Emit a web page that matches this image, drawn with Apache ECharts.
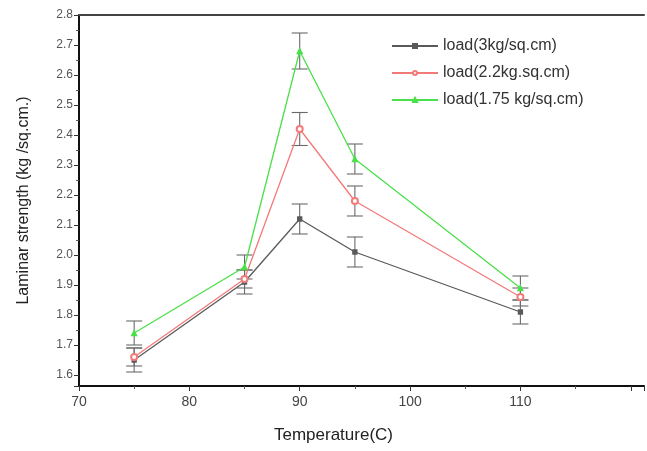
<!DOCTYPE html>
<html>
<head>
<meta charset="utf-8">
<script src="https://cdn.jsdelivr.net/npm/echarts@6/dist/echarts.min.js"></script>
<style>
  html, body { margin: 0; padding: 0; background: #fff; }
  #chart { width: 647px; height: 451px; }
</style>
</head>
<body>
<div id="chart"></div>
<script>
// temperatures (C)
var temps = [75, 85, 90, 95, 110];
var seriesNames = ['load(3kg/sq.cm)', 'load(2.2kg.sq.cm)', 'load(1.75 kg/sq.cm)'];
// laminar strength values
var load3 = [1.65, 1.91, 2.12, 2.01, 1.81];
var load22 = [1.66, 1.92, 2.42, 2.18, 1.86];
var load175 = [1.74, 1.96, 2.68, 2.32, 1.89];
// error (+/-)
var err3 = [0.04, 0.04, 0.05, 0.05, 0.04];
var err22 = [0.03, 0.03, 0.055, 0.05, 0.03];
var err175 = [0.04, 0.04, 0.06, 0.05, 0.04];
var xLabels = [70, 80, 90, 100, 110];

var colors = ['#5a5a5a', '#f47a7a', '#4ae04a'];

var myChart = echarts.init(document.getElementById('chart'));

function pairs(vals) {
  var out = [];
  for (var i = 0; i < temps.length; i++) out.push([temps[i], vals[i]]);
  return out;
}
function errData(vals, errs) {
  var out = [];
  for (var i = 0; i < temps.length; i++) out.push([temps[i], vals[i] - errs[i], vals[i] + errs[i]]);
  return out;
}
function errSeries(vals, errs) {
  return {
    type: 'custom',
    data: errData(vals, errs),
    z: 1,
    silent: true,
    renderItem: function (params, api) {
      var lo = api.coord([api.value(0), api.value(1)]);
      var hi = api.coord([api.value(0), api.value(2)]);
      var w = 8;
      var st = { stroke: '#6a6a6a', lineWidth: 1.1 };
      return {
        type: 'group',
        children: [
          { type: 'line', shape: { x1: lo[0], y1: lo[1], x2: hi[0], y2: hi[1] }, style: st },
          { type: 'line', shape: { x1: lo[0] - w, y1: lo[1], x2: lo[0] + w, y2: lo[1] }, style: st },
          { type: 'line', shape: { x1: hi[0] - w, y1: hi[1], x2: hi[0] + w, y2: hi[1] }, style: st }
        ]
      };
    }
  };
}

var symbols = ['rect', 'emptyCircle', 'triangle'];
var sizes = [4, 6, 5];
var allVals = [load3, load22, load175];
var allErrs = [err3, err22, err175];

var series = [];
for (var s = 0; s < 3; s++) {
  series.push(errSeries(allVals[s], allErrs[s]));
}
for (var s = 0; s < 3; s++) {
  series.push({
    name: seriesNames[s],
    type: 'line',
    data: pairs(allVals[s]),
    symbol: symbols[s],
    symbolSize: sizes[s],
    z: 3,
    lineStyle: { color: colors[s], width: 1.3 },
    itemStyle: { color: colors[s], borderColor: colors[s], borderWidth: 1.3 }
  });
}

var option = {
  animation: false,
  backgroundColor: '#fff',
  grid: { left: 79, right: 0, top: 15, bottom: 65 },
  legend: {
    data: seriesNames,
    orient: 'vertical',
    left: 386, top: 33,
    itemWidth: 46, itemHeight: 5, itemGap: 11,
    textStyle: { fontFamily: 'Liberation Sans', fontSize: 16, color: '#333' }
  },
  xAxis: [{
    type: 'value',
    min: 70, max: 121.2, interval: 10,
    name: 'Temperature(C)',
    nameLocation: 'middle',
    nameGap: 41,
    nameTextStyle: { fontFamily: 'Liberation Sans', fontSize: 17, color: '#222', padding: [0, 56, 0, 0] },
    axisLine: { lineStyle: { color: '#111', width: 2 } },
    axisTick: { show: true, length: 5, lineStyle: { color: '#333' } },
    minorTick: { show: true, splitNumber: 2, length: 3, lineStyle: { color: '#555' } },
    axisLabel: {
      fontFamily: 'Liberation Sans', fontSize: 14, color: '#444', margin: 9,
      formatter: function (v) { return xLabels.indexOf(v) >= 0 ? String(v) : ''; }
    },
    splitLine: { show: false }
  }, {
    // top frame line
    type: 'value',
    position: 'top',
    min: 70, max: 121.2,
    axisLine: { lineStyle: { color: '#444', width: 2 } },
    axisTick: { show: false },
    axisLabel: { show: false },
    splitLine: { show: false }
  }],
  yAxis: {
    type: 'value',
    min: 1.5633, max: 2.8, splitNumber: 12,
    name: 'Laminar strength (kg /sq.cm.)',
    nameLocation: 'middle',
    nameGap: 47,
    nameTextStyle: { fontFamily: 'Liberation Sans', fontSize: 16, color: '#222' },
    axisLine: { lineStyle: { color: '#111', width: 2 } },
    axisTick: { show: true, length: 5, lineStyle: { color: '#333' } },
    minorTick: { show: true, splitNumber: 2, length: 3, lineStyle: { color: '#555' } },
    axisLabel: {
      showMinLabel: false,
      fontFamily: 'Liberation Sans', fontSize: 12, color: '#555', margin: 6,
      formatter: function (v) { return v.toFixed(1); }
    },
    splitLine: { show: false }
  },
  series: series
};

myChart.setOption(option);
</script>
</body>
</html>
